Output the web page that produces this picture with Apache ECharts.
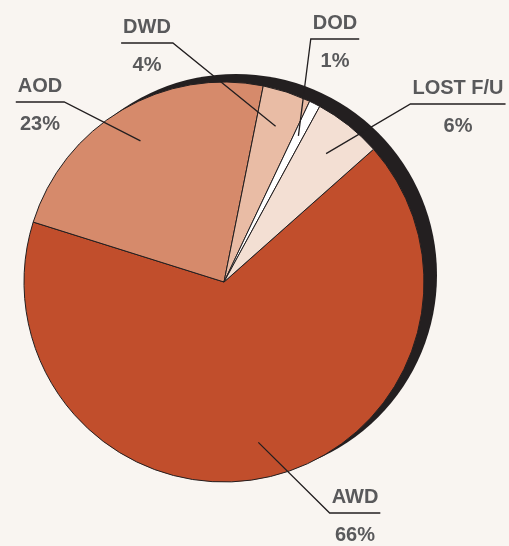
<!DOCTYPE html>
<html>
<head>
<meta charset="utf-8">
<script src="https://cdn.jsdelivr.net/npm/echarts@6/dist/echarts.min.js"></script>
<style>
html, body { margin: 0; padding: 0; background: #f9f5f1; }
#box { width: 509px; height: 546px; }
</style>
</head>
<body>
<div id="box"></div>
<script>
var categories = ['AWD', 'AOD', 'DWD', 'DOD', 'LOST F/U'];
var shares = [66.4, 23.3, 3.9, 0.9, 5.5];
var pctLabels = ['66%', '23%', '4%', '1%', '6%'];
var colors = ['#c14e2c', '#d68a6b', '#e9bca5', '#ffffff', '#f3dfd3'];

var cx = 224, cy = 282, r = 200;
// underline spot for each label (layout only)
var labelSpots = [[355, 513], [40, 102], [147, 43], [335, 39], [458, 104]];

var myChart = echarts.init(document.getElementById("box"));

var pieData = [];
var labelData = [];
for (var i = 0; i < categories.length; i++) {
	pieData.push({
		name: categories[i],
		value: shares[i],
		itemStyle: { color: colors[i] }
	});
	labelData.push({ name: categories[i], value: shares[i] });
}

var textStyle = {
	fontFamily: 'Liberation Sans',
	fontWeight: 'bold',
	fontSize: 20,
	lineHeight: 38,
	color: '#59595b',
	align: 'center'
};

var option = {
	backgroundColor: '#f9f5f1',
	animation: false,
	series: [{
		// dark disc behind the pie
		type: 'pie',
		silent: true,
		z: 1,
		center: [cx + 12, cy - 7],
		radius: r + 1,
		label: { show: false },
		labelLine: { show: false },
		itemStyle: { color: '#231f20' },
		emphasis: { disabled: true },
		data: [{ name: 'shade', value: 1 }]
	}, {
		type: 'pie',
		z: 2,
		center: [cx, cy],
		radius: r,
		startAngle: 41.6,
		clockwise: true,
		emphasis: { disabled: true },
		itemStyle: {
			borderColor: '#231f20',
			borderWidth: 1
		},
		label: { show: false },
		labelLine: { show: false },
		data: pieData
	}, {
		// same slices, transparent, only to carry labels above the pie
		type: 'pie',
		silent: true,
		z: 5,
		center: [cx, cy],
		radius: r,
		startAngle: 41.6,
		clockwise: true,
		avoidLabelOverlap: false,
		emphasis: { disabled: true },
		itemStyle: { color: 'rgba(0,0,0,0)', borderWidth: 0 },
		label: {
			show: true,
			position: 'outside',
			padding: [6, 0, 0, 0],
			formatter: function (p) {
				return '{n|' + p.name + '}\n{p|' + pctLabels[p.dataIndex] + '}';
			},
			rich: { n: textStyle, p: textStyle }
		},
		labelLine: {
			show: true,
			showAbove: true,
			smooth: false,
			lineStyle: { color: '#231f20', width: 1.3 }
		},
		labelLayout: function (p) {
			var spot = labelSpots[p.dataIndex];
			var w = p.labelRect.width;
			var a = p.labelLinePoints[0];
			var ax = cx + (a[0] - cx) * 0.82;
			var ay = cy + (a[1] - cy) * 0.82;
			var left = spot[0] - w / 2 - 2;
			var right = spot[0] + w / 2 + 2;
			var near = ax > spot[0] ? right : left;
			var far = ax > spot[0] ? left : right;
			return {
				x: spot[0],
				y: spot[1],
				align: 'center',
				verticalAlign: 'middle',
				labelLinePoints: [[ax, ay], [near, spot[1]], [far, spot[1]]]
			};
		},
		data: labelData
	}]
};

myChart.setOption(option);
</script>
</body>
</html>
